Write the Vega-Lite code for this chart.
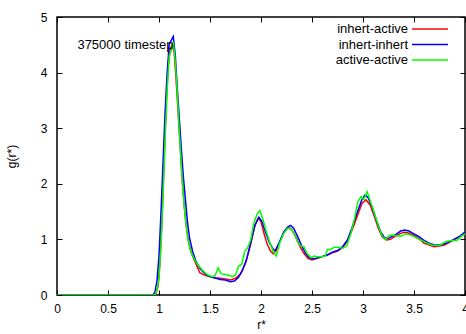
{
  "$schema": "https://vega.github.io/schema/vega-lite/v6.json",
  "width": 408,
  "height": 278,
  "autosize": {"type": "none"},
  "padding": {"left": 57, "top": 17, "right": 1, "bottom": 39},
  "background": "white",
  "config": {
    "font": "Liberation Sans",
    "view": {"stroke": "black", "strokeWidth": 1.5},
    "axis": {
      "grid": false,
      "domain": false,
      "tickSize": -5,
      "tickColor": "black",
      "tickWidth": 1,
      "labelFont": "Liberation Sans",
      "labelFontSize": 12,
      "labelColor": "black",
      "titleFont": "Liberation Sans",
      "titleFontSize": 12,
      "titleFontWeight": "normal",
      "titleColor": "black"
    },
    "legend": {
      "labelFont": "Liberation Sans",
      "labelFontSize": 13,
      "labelColor": "black"
    }
  },
  "datasets": {
    "ia": [
      {"r":0,"g":0},{"r":0.9,"g":0},{"r":0.95,"g":0},{"r":0.97,"g":0.03},{"r":0.99,"g":0.15},{"r":1.01,"g":0.6},{"r":1.03,"g":1.4},{"r":1.05,"g":2.4},{"r":1.07,"g":3.4},{"r":1.09,"g":4.1},{"r":1.11,"g":4.42},{"r":1.13,"g":4.5},{"r":1.15,"g":4.35},{"r":1.17,"g":3.8},{"r":1.19,"g":3.2},{"r":1.21,"g":2.6},{"r":1.23,"g":2.0},{"r":1.25,"g":1.55},{"r":1.27,"g":1.2},{"r":1.29,"g":0.95},{"r":1.31,"g":0.8},{"r":1.34,"g":0.65},{"r":1.37,"g":0.53},{"r":1.4,"g":0.4},{"r":1.43,"g":0.37},{"r":1.46,"g":0.35},{"r":1.5,"g":0.33},{"r":1.55,"g":0.31},{"r":1.6,"g":0.3},{"r":1.65,"g":0.29},{"r":1.7,"g":0.27},{"r":1.75,"g":0.3},{"r":1.8,"g":0.38},{"r":1.85,"g":0.58},{"r":1.9,"g":0.92},{"r":1.94,"g":1.25},{"r":1.97,"g":1.38},{"r":2.0,"g":1.32},{"r":2.03,"g":1.1},{"r":2.06,"g":0.92},{"r":2.09,"g":0.8},{"r":2.12,"g":0.74},{"r":2.15,"g":0.8},{"r":2.19,"g":0.98},{"r":2.23,"g":1.15},{"r":2.27,"g":1.21},{"r":2.3,"g":1.18},{"r":2.34,"g":1.05},{"r":2.38,"g":0.88},{"r":2.42,"g":0.75},{"r":2.46,"g":0.66},{"r":2.5,"g":0.63},{"r":2.55,"g":0.66},{"r":2.6,"g":0.69},{"r":2.65,"g":0.72},{"r":2.7,"g":0.76},{"r":2.75,"g":0.79},{"r":2.8,"g":0.85},{"r":2.85,"g":0.98},{"r":2.9,"g":1.2},{"r":2.95,"g":1.45},{"r":2.99,"g":1.65},{"r":3.03,"g":1.71},{"r":3.07,"g":1.62},{"r":3.11,"g":1.42},{"r":3.15,"g":1.2},{"r":3.19,"g":1.04},{"r":3.23,"g":0.99},{"r":3.27,"g":1.0},{"r":3.31,"g":1.05},{"r":3.36,"g":1.1},{"r":3.4,"g":1.13},{"r":3.44,"g":1.12},{"r":3.48,"g":1.09},{"r":3.52,"g":1.05},{"r":3.56,"g":1.0},{"r":3.6,"g":0.93},{"r":3.65,"g":0.9},{"r":3.7,"g":0.87},{"r":3.75,"g":0.88},{"r":3.8,"g":0.9},{"r":3.85,"g":0.95},{"r":3.9,"g":1.0},{"r":3.95,"g":1.05},{"r":4.0,"g":1.12}
    ],
    "ii": [
      {"r":0,"g":0},{"r":0.9,"g":0},{"r":0.94,"g":0},{"r":0.96,"g":0.05},{"r":0.98,"g":0.25},{"r":1.0,"g":0.7},{"r":1.02,"g":1.5},{"r":1.04,"g":2.4},{"r":1.06,"g":3.3},{"r":1.08,"g":4.0},{"r":1.1,"g":4.5},{"r":1.12,"g":4.58},{"r":1.14,"g":4.65},{"r":1.16,"g":4.3},{"r":1.18,"g":3.7},{"r":1.2,"g":3.15},{"r":1.22,"g":2.6},{"r":1.24,"g":2.1},{"r":1.26,"g":1.7},{"r":1.28,"g":1.3},{"r":1.3,"g":1.02},{"r":1.33,"g":0.78},{"r":1.36,"g":0.62},{"r":1.4,"g":0.48},{"r":1.44,"g":0.4},{"r":1.48,"g":0.35},{"r":1.52,"g":0.32},{"r":1.56,"g":0.3},{"r":1.6,"g":0.28},{"r":1.65,"g":0.27},{"r":1.7,"g":0.24},{"r":1.74,"g":0.25},{"r":1.78,"g":0.32},{"r":1.82,"g":0.45},{"r":1.86,"g":0.65},{"r":1.9,"g":0.95},{"r":1.94,"g":1.25},{"r":1.98,"g":1.4},{"r":2.01,"g":1.32},{"r":2.04,"g":1.15},{"r":2.08,"g":0.95},{"r":2.12,"g":0.82},{"r":2.14,"g":0.8},{"r":2.18,"g":0.95},{"r":2.22,"g":1.12},{"r":2.26,"g":1.22},{"r":2.29,"g":1.25},{"r":2.32,"g":1.2},{"r":2.36,"g":1.05},{"r":2.4,"g":0.88},{"r":2.44,"g":0.74},{"r":2.48,"g":0.66},{"r":2.52,"g":0.65},{"r":2.56,"g":0.67},{"r":2.6,"g":0.69},{"r":2.65,"g":0.72},{"r":2.7,"g":0.77},{"r":2.75,"g":0.8},{"r":2.8,"g":0.87},{"r":2.85,"g":1.0},{"r":2.9,"g":1.25},{"r":2.95,"g":1.52},{"r":2.99,"g":1.72},{"r":3.02,"g":1.8},{"r":3.05,"g":1.75},{"r":3.09,"g":1.58},{"r":3.13,"g":1.35},{"r":3.17,"g":1.15},{"r":3.21,"g":1.03},{"r":3.25,"g":1.02},{"r":3.29,"g":1.06},{"r":3.33,"g":1.1},{"r":3.37,"g":1.15},{"r":3.41,"g":1.17},{"r":3.45,"g":1.15},{"r":3.5,"g":1.1},{"r":3.55,"g":1.05},{"r":3.6,"g":0.98},{"r":3.65,"g":0.93},{"r":3.7,"g":0.9},{"r":3.75,"g":0.9},{"r":3.8,"g":0.92},{"r":3.85,"g":0.96},{"r":3.9,"g":1.01},{"r":3.95,"g":1.06},{"r":4.0,"g":1.13}
    ],
    "aa": [
      {"r":0,"g":0},{"r":0.92,"g":0},{"r":0.96,"g":0},{"r":0.98,"g":0.1},{"r":1.0,"g":0.3},{"r":1.02,"g":0.9},{"r":1.04,"g":1.8},{"r":1.06,"g":2.8},{"r":1.08,"g":3.7},{"r":1.1,"g":4.3},{"r":1.12,"g":4.4},{"r":1.14,"g":4.55},{"r":1.16,"g":4.2},{"r":1.18,"g":3.6},{"r":1.2,"g":2.9},{"r":1.22,"g":2.3},{"r":1.24,"g":1.75},{"r":1.26,"g":1.35},{"r":1.28,"g":1.05},{"r":1.3,"g":0.85},{"r":1.33,"g":0.7},{"r":1.36,"g":0.6},{"r":1.4,"g":0.5},{"r":1.44,"g":0.42},{"r":1.48,"g":0.36},{"r":1.52,"g":0.33},{"r":1.55,"g":0.35},{"r":1.58,"g":0.49},{"r":1.61,"g":0.38},{"r":1.65,"g":0.37},{"r":1.69,"g":0.35},{"r":1.72,"g":0.33},{"r":1.75,"g":0.36},{"r":1.78,"g":0.52},{"r":1.81,"g":0.55},{"r":1.84,"g":0.78},{"r":1.87,"g":0.85},{"r":1.9,"g":1.0},{"r":1.93,"g":1.3},{"r":1.96,"g":1.45},{"r":1.99,"g":1.52},{"r":2.02,"g":1.35},{"r":2.05,"g":1.15},{"r":2.09,"g":0.92},{"r":2.12,"g":0.78},{"r":2.15,"g":0.7},{"r":2.18,"g":0.92},{"r":2.22,"g":1.1},{"r":2.26,"g":1.2},{"r":2.29,"g":1.2},{"r":2.32,"g":1.12},{"r":2.36,"g":0.95},{"r":2.39,"g":0.88},{"r":2.42,"g":0.87},{"r":2.45,"g":0.75},{"r":2.49,"g":0.67},{"r":2.52,"g":0.7},{"r":2.55,"g":0.69},{"r":2.59,"g":0.69},{"r":2.63,"g":0.7},{"r":2.65,"g":0.82},{"r":2.68,"g":0.82},{"r":2.72,"g":0.86},{"r":2.76,"g":0.86},{"r":2.8,"g":0.84},{"r":2.84,"g":0.88},{"r":2.88,"g":1.1},{"r":2.92,"g":1.4},{"r":2.95,"g":1.68},{"r":2.98,"g":1.77},{"r":3.01,"g":1.72},{"r":3.04,"g":1.86},{"r":3.07,"g":1.7},{"r":3.11,"g":1.48},{"r":3.15,"g":1.25},{"r":3.19,"g":1.05},{"r":3.22,"g":1.0},{"r":3.26,"g":1.07},{"r":3.3,"g":1.08},{"r":3.34,"g":1.06},{"r":3.38,"g":1.06},{"r":3.41,"g":1.1},{"r":3.45,"g":1.09},{"r":3.5,"g":1.05},{"r":3.55,"g":1.0},{"r":3.6,"g":0.96},{"r":3.64,"g":0.92},{"r":3.68,"g":0.9},{"r":3.72,"g":0.89},{"r":3.76,"g":0.9},{"r":3.8,"g":0.95},{"r":3.84,"g":0.97},{"r":3.88,"g":0.98},{"r":3.92,"g":0.98},{"r":3.96,"g":1.05},{"r":4.0,"g":1.1}
    ]
  },
  "layer": [
    {
      "data": {"name": "ia"},
      "mark": {"type": "line", "strokeWidth": 1.5, "clip": true},
      "encoding": {
        "x": {"field": "r", "type": "quantitative", "scale": {"domain": [0, 4], "nice": false},
              "axis": {"orient": "bottom", "title": "r*", "format": "~g", "values": [0,0.5,1,1.5,2,2.5,3,3.5,4], "labelPadding": 13, "titlePadding": 5, "labelFlush": false, "labelOverlap": false}},
        "y": {"field": "g", "type": "quantitative", "scale": {"domain": [0, 5], "nice": false},
              "axis": {"orient": "left", "title": "g(r*)", "values": [0,1,2,3,4,5], "labelPadding": 15, "titlePadding": 22}},
        "color": {"datum": "inhert-active", "type": "nominal",
                  "scale": {"domain": ["inhert-active", "inhert-inhert", "active-active"], "range": ["#ff0000", "#0000ff", "#00ff00"]},
                  "legend": {"title": null, "orient": "top-right", "offset": 5, "symbolType": "M-3,0H3M4.5,0", "symbolSize": 144, "symbolStrokeWidth": 1.5, "symbolFillColor": "transparent", "labelAlign": "right", "labelOffset": -29, "rowPadding": 1.5, "padding": 0}}
      }
    },
    {
      "data": {"name": "ii"},
      "mark": {"type": "line", "strokeWidth": 1.5, "clip": true},
      "encoding": {
        "x": {"field": "r", "type": "quantitative", "axis": {"orient": "top", "title": null, "labels": false, "values": [0,0.5,1,1.5,2,2.5,3,3.5,4]}},
        "y": {"field": "g", "type": "quantitative", "axis": {"orient": "right", "title": null, "labels": false, "values": [0,1,2,3,4,5]}},
        "color": {"datum": "inhert-inhert", "type": "nominal"}
      }
    },
    {
      "data": {"name": "aa"},
      "mark": {"type": "line", "strokeWidth": 1.5, "clip": true},
      "encoding": {
        "x": {"field": "r", "type": "quantitative", "axis": null},
        "y": {"field": "g", "type": "quantitative", "axis": null},
        "color": {"datum": "active-active", "type": "nominal"}
      }
    },
    {
      "data": {"values": [{"label": "375000 timestep"}]},
      "mark": {"type": "text", "align": "left", "baseline": "middle", "fontSize": 13, "font": "Liberation Sans", "color": "black"},
      "encoding": {
        "x": {"datum": 0.2, "type": "quantitative", "axis": null},
        "y": {"datum": 4.5, "type": "quantitative", "axis": null},
        "text": {"field": "label"}
      }
    }
  ],
  "resolve": {"axis": {"x": "independent", "y": "independent"}}
}
